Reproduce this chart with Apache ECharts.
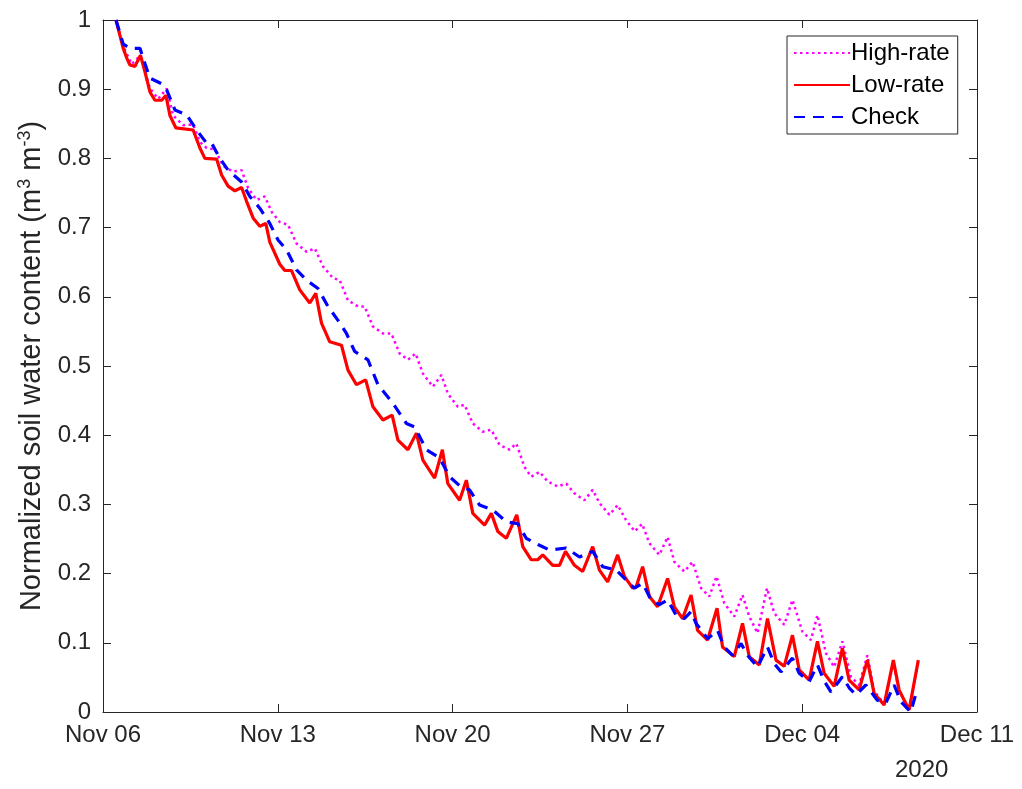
<!DOCTYPE html>
<html>
<head>
<meta charset="utf-8">
<script src="https://cdn.jsdelivr.net/npm/echarts@6/dist/echarts.min.js"></script>
<style>
html,body{margin:0;padding:0;background:#fff;}
#chart{width:1022px;height:789px;}
</style>
</head>
<body>
<div id="chart"></div>
<script>
// x values are days since Nov 06 2020 00:00
const xTickLabels = ['Nov 06', 'Nov 13', 'Nov 20', 'Nov 27', 'Dec 04', 'Dec 11'];
const yearLabel = '2020';

const highRateDays = [0.52,0.81,1.15,1.5,1.88,2.21,2.55,2.81,3.21,3.61,3.88,4.15,4.48,4.81,5.21,5.55,5.81,6.15,6.48,6.75,7.08,7.41,7.75,8.15,8.48,8.81,9.21,9.48,9.81,10.21,10.48,10.81,11.21,11.55,11.88,12.21,12.52,12.81,13.21,13.55,13.81,14.21,14.48,14.81,15.21,15.55,15.88,16.28,16.55,16.88,17.15,17.48,17.81,18.21,18.55,18.88,19.28,19.61,19.88,20.28,20.61,20.95,21.3,21.59,21.88,22.28,22.61,22.88,23.28,23.61,23.95,24.28,24.57,24.88,25.28,25.61,25.88,26.21,26.59,26.88,27.28,27.61,28.01,28.35,28.61,28.95,29.28,29.61,29.95,30.28,30.61,30.88,31.28,31.65,31.88,32.28,32.65];
const highRateValues = [1.0,0.962,0.936,0.949,0.901,0.886,0.901,0.862,0.848,0.849,0.824,0.815,0.813,0.789,0.781,0.783,0.757,0.740,0.745,0.723,0.708,0.704,0.677,0.665,0.670,0.644,0.627,0.624,0.595,0.586,0.586,0.557,0.547,0.547,0.518,0.509,0.518,0.489,0.470,0.487,0.460,0.441,0.444,0.417,0.405,0.408,0.386,0.379,0.388,0.354,0.340,0.347,0.333,0.326,0.330,0.316,0.306,0.321,0.302,0.285,0.299,0.277,0.261,0.272,0.244,0.227,0.253,0.217,0.203,0.217,0.179,0.167,0.196,0.157,0.138,0.169,0.138,0.114,0.179,0.143,0.126,0.162,0.116,0.104,0.140,0.085,0.065,0.102,0.051,0.039,0.082,0.030,0.012,0.072,0.030,0.004,0.072];

const lowRateDays = [0.52,0.81,0.95,1.08,1.28,1.5,1.68,1.88,2.08,2.35,2.52,2.68,2.92,3.61,3.88,4.08,4.55,4.75,5.01,5.28,5.55,5.75,6.01,6.28,6.52,6.68,7.08,7.28,7.55,7.88,8.28,8.52,8.75,9.08,9.55,9.81,10.15,10.52,10.81,11.21,11.58,11.81,12.21,12.55,12.81,13.28,13.59,13.81,14.28,14.55,14.81,15.28,15.55,15.81,16.15,16.57,16.81,17.15,17.41,17.61,18.01,18.28,18.52,18.88,19.21,19.61,19.88,20.21,20.61,20.88,21.21,21.35,21.61,21.88,22.21,22.61,22.88,23.21,23.55,23.81,24.21,24.59,24.81,25.28,25.61,25.88,26.28,26.61,26.95,27.28,27.61,27.88,28.28,28.61,28.88,29.28,29.61,29.88,30.28,30.61,30.88,31.28,31.65,31.88,32.28,32.65];
const lowRateValues = [1.0,0.959,0.945,0.935,0.933,0.949,0.925,0.896,0.884,0.884,0.891,0.862,0.844,0.841,0.815,0.800,0.799,0.776,0.760,0.753,0.758,0.738,0.714,0.702,0.706,0.679,0.647,0.638,0.638,0.610,0.591,0.605,0.562,0.535,0.530,0.494,0.473,0.480,0.441,0.422,0.429,0.393,0.379,0.403,0.364,0.338,0.379,0.330,0.306,0.335,0.287,0.270,0.287,0.261,0.251,0.285,0.239,0.220,0.220,0.227,0.212,0.212,0.232,0.212,0.203,0.239,0.205,0.188,0.227,0.196,0.179,0.181,0.210,0.167,0.152,0.193,0.152,0.135,0.169,0.118,0.104,0.150,0.094,0.080,0.128,0.080,0.068,0.135,0.075,0.066,0.111,0.061,0.046,0.102,0.056,0.037,0.092,0.046,0.032,0.075,0.027,0.010,0.075,0.032,0.003,0.075];

const checkDays = [0.52,0.81,1.08,1.48,1.68,1.88,2.35,2.55,2.88,3.35,3.75,4.15,4.35,4.68,5.01,5.55,5.88,6.28,6.68,7.01,7.35,7.75,8.15,8.61,9.01,9.41,9.75,10.08,10.61,11.01,11.61,12.15,12.48,12.95,13.48,13.88,14.28,14.68,15.08,15.61,16.15,16.61,16.95,17.48,17.88,18.55,19.08,19.61,20.01,20.55,21.08,21.28,21.61,21.95,22.28,22.61,22.95,23.28,23.55,23.75,24.21,24.61,24.88,25.21,25.55,25.81,26.21,26.61,26.88,27.15,27.61,27.88,28.28,28.61,28.88,29.15,29.61,29.88,30.15,30.55,31.01,31.35,31.68,31.95,32.35,32.61];
const checkValues = [1.0,0.965,0.959,0.959,0.937,0.916,0.908,0.899,0.870,0.863,0.841,0.822,0.822,0.800,0.783,0.766,0.745,0.728,0.706,0.682,0.668,0.639,0.624,0.612,0.586,0.566,0.547,0.521,0.509,0.473,0.446,0.417,0.412,0.379,0.367,0.340,0.327,0.321,0.299,0.292,0.275,0.272,0.251,0.241,0.234,0.237,0.224,0.232,0.210,0.205,0.186,0.179,0.186,0.162,0.155,0.162,0.140,0.135,0.145,0.128,0.106,0.118,0.094,0.082,0.099,0.082,0.065,0.094,0.070,0.058,0.078,0.056,0.044,0.068,0.045,0.029,0.051,0.035,0.025,0.039,0.017,0.013,0.039,0.015,0.000,0.034];

function pairs(xs, ys) { return xs.map((x, i) => [x, ys[i]]); }

const FONT = '"Liberation Sans", Arial, Helvetica, sans-serif';
const AX = '#262626';

const chart = echarts.init(document.getElementById('chart'), null, {renderer: 'canvas'});
const xCommon = {
  type: 'value', min: 0, max: 35, interval: 7,
  axisLine: {show: true, onZero: false, lineStyle: {color: AX, width: 1}},
  axisTick: {show: true, inside: true, length: 8, lineStyle: {color: AX}},
  splitLine: {show: false}
};
const yCommon = {
  type: 'value', min: 0, max: 1, interval: 0.1,
  axisLine: {show: true, onZero: false, lineStyle: {color: AX, width: 1}},
  axisTick: {show: true, inside: true, length: 8, lineStyle: {color: AX}},
  splitLine: {show: false}
};

chart.setOption({
  animation: false,
  backgroundColor: '#fff',
  grid: {left: 103, right: 45, top: 20, bottom: 77, containLabel: false},
  xAxis: [
    Object.assign({}, xCommon, {
      position: 'bottom',
      axisLabel: {show: true, margin: 11, fontSize: 24, color: AX, fontFamily: FONT,
        formatter: v => xTickLabels[Math.round(v / 7)] || ''}
    }),
    Object.assign({}, xCommon, {position: 'top', axisLabel: {show: false}})
  ],
  yAxis: [
    Object.assign({}, yCommon, {
      position: 'left',
      axisLabel: {show: true, margin: 12, fontSize: 24, color: AX, fontFamily: FONT,
        formatter: v => (Math.round(v * 10) / 10).toString()},
      name: 'Normalized soil water content (m{sup|3} m{sup|-3})',
      nameLocation: 'middle', nameRotate: 90, nameGap: 54,
      nameTextStyle: {fontSize: 29, color: AX, fontFamily: FONT,
        rich: {sup: {fontSize: 18, color: AX, fontFamily: FONT, verticalAlign: 'top', padding: [0, 0, 14, 0]}}}
    }),
    Object.assign({}, yCommon, {position: 'right', axisLabel: {show: false}})
  ],
  legend: {
    orient: 'vertical', left: 787, top: 36,
    backgroundColor: '#fff', borderColor: AX, borderWidth: 1, borderRadius: 0,
    padding: [5, 8, 5, 6], itemGap: 8, itemWidth: 56, itemHeight: 24,
    itemStyle: {opacity: 0},
    textStyle: {fontSize: 24, lineHeight: 24, color: '#000', fontFamily: FONT, padding: [0, 0, 0, -4]},
    data: ['High-rate', 'Low-rate', 'Check']
  },
  series: [
    {name: 'High-rate', type: 'line', showSymbol: false, symbol: 'none', xAxisIndex: 0, yAxisIndex: 0,
      data: pairs(highRateDays, highRateValues),
      lineStyle: {color: '#ff00ff', width: 2.5, type: [2.5, 3.5]}, itemStyle: {color: '#ff00ff'}},
    {name: 'Low-rate', type: 'line', showSymbol: false, symbol: 'none', xAxisIndex: 0, yAxisIndex: 0,
      data: pairs(lowRateDays, lowRateValues),
      lineStyle: {color: '#ff0000', width: 3.2}, itemStyle: {color: '#ff0000'}},
    {name: 'Check', type: 'line', showSymbol: false, symbol: 'none', xAxisIndex: 0, yAxisIndex: 0,
      data: pairs(checkDays, checkValues),
      lineStyle: {color: '#0000ff', width: 3.2, type: [11, 8]}, itemStyle: {color: '#0000ff'}}
  ],
  graphic: [{
    type: 'text', left: 895, top: 758,
    style: {text: yearLabel, fontSize: 24, fill: AX, fontFamily: FONT}
  }]
});
</script>
</body>
</html>
